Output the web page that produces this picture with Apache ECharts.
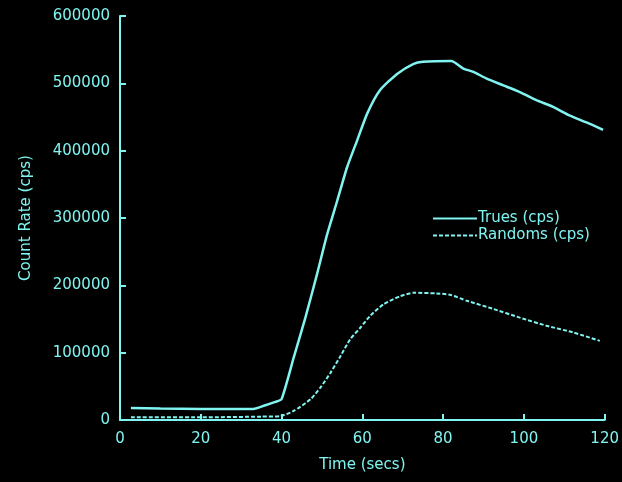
<!DOCTYPE html>
<html>
<head>
<meta charset="utf-8">
<script src="https://cdn.jsdelivr.net/npm/echarts@6/dist/echarts.min.js"></script>
<style>
  html, body { margin: 0; padding: 0; background: #000; }
  #chart { width: 622px; height: 482px; }
</style>
</head>
<body>
<div id="chart"></div>
<script>
// time (secs) and count rates
const truesTime = [2.7, 10, 20, 33, 36, 38.5, 40, 43, 45.9, 48.8, 51.3, 53.8, 56.2, 58.7, 61.2, 64.4, 68.6, 72.7, 75, 82, 85, 87.5, 90.8, 94.9, 99, 103.1, 107.2, 111.4, 115.5, 119.6]
const truesRate = [18000, 17000, 16500, 16500, 22000, 27000, 31000, 92700, 152000, 217000, 276000, 326000, 375000, 415000, 455000, 490000, 514000, 529000, 532000, 533000, 522000, 517000, 507000, 497000, 487000, 475000, 465000, 452000, 442000, 431000]
const randomsTime = [2.7, 20, 35, 39.8, 43, 47.2, 49.6, 52.1, 54.6, 57, 59.5, 62, 65.3, 69.4, 72.7, 78.4, 81.7, 85.9, 92.4, 99, 105.6, 112.2, 118.8]
const randomsRate = [4000, 4000, 5000, 6000, 13400, 31000, 48000, 70000, 95000, 120000, 137000, 155000, 172000, 184000, 189000, 188000, 186000, 177000, 165000, 152000, 140000, 130000, 117500]
const seriesNames = ['Trues (cps)', 'Randoms (cps)']

const cyan = '#80f4f0'
const font = 'DejaVu Sans'

const chart = echarts.init(document.getElementById('chart'))
chart.setOption({
  backgroundColor: '#000',
  animation: false,
  grid: {
    left: 120,
    right: 17,
    top: 16,
    bottom: 62
  },
  legend: {
    orient: 'vertical',
    left: 427,
    top: 206,
    itemWidth: 44,
    itemHeight: 14,
    itemGap: 2,
    itemStyle: { opacity: 0 },
    textStyle: { color: cyan, fontFamily: font, fontSize: 15, lineHeight: 15, padding: [0, 0, 0, -4] },
    data: seriesNames
  },
  xAxis: {
    type: 'value',
    min: 0,
    max: 120,
    interval: 20,
    name: 'Time (secs)',
    nameLocation: 'middle',
    nameGap: 38,
    nameTextStyle: { color: cyan, fontFamily: font, fontSize: 15 },
    axisLine: { lineStyle: { color: cyan, width: 2 } },
    axisTick: { inside: true, length: 6, lineStyle: { color: cyan, width: 2 } },
    axisLabel: { color: cyan, fontFamily: font, fontSize: 15, margin: 12 },
    splitLine: { show: false }
  },
  yAxis: {
    type: 'value',
    min: 0,
    max: 600000,
    interval: 100000,
    name: 'Count Rate (cps)',
    nameLocation: 'middle',
    nameGap: 86,
    nameTextStyle: { color: cyan, fontFamily: font, fontSize: 15 },
    axisLine: { show: true, lineStyle: { color: cyan, width: 2 } },
    axisTick: { show: true, inside: true, length: 6, lineStyle: { color: cyan, width: 2 } },
    axisLabel: { color: cyan, fontFamily: font, fontSize: 15, margin: 10, formatter: v => String(v) },
    splitLine: { show: false }
  },
  series: [
    {
      name: seriesNames[0],
      type: 'line',
      symbol: 'none',
      smooth: 0.2,
      lineStyle: { color: cyan, width: 2.5 },
      itemStyle: { color: cyan },
      data: truesTime.map((t, i) => [t, truesRate[i]])
    },
    {
      name: seriesNames[1],
      type: 'line',
      symbol: 'none',
      smooth: 0.2,
      lineStyle: { color: cyan, width: 2, type: [4, 2] },
      itemStyle: { color: cyan },
      data: randomsTime.map((t, i) => [t, randomsRate[i]])
    }
  ]
})
</script>
</body>
</html>
